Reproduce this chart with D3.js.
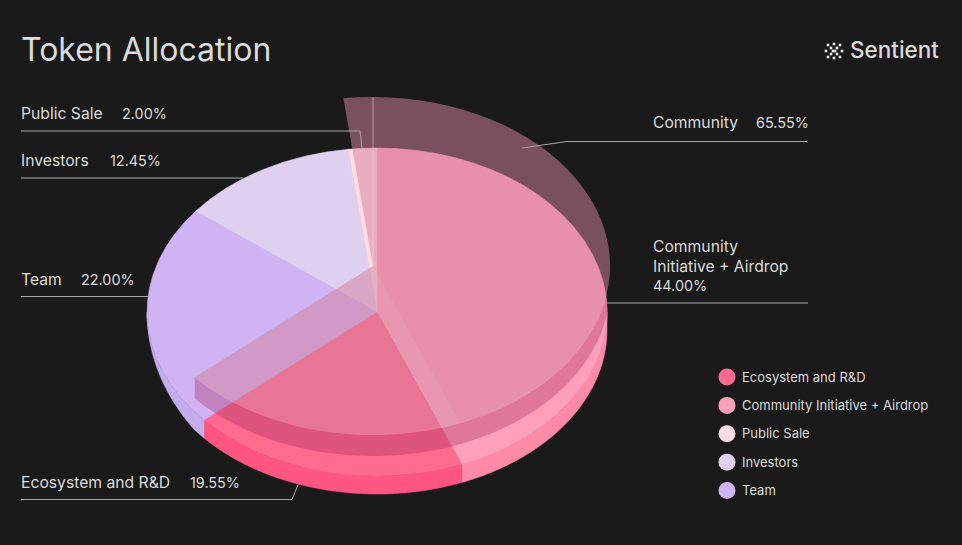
<!DOCTYPE html>
<html>
<head>
<meta charset="utf-8">
<script src="https://cdn.jsdelivr.net/npm/d3@7"></script>
<style>
  html, body { margin: 0; background: #1a1a1a; }
  svg { display: block; }
  text { font-family: Inter, "Noto Sans", sans-serif; fill: #dcdcdc; }
</style>
</head>
<body>
<script>
// slices, in drawing order clockwise from 12 o'clock
var categories = ['Community Initiative + Airdrop', 'Ecosystem and R&D', 'Team', 'Investors', 'Public Sale'];
var values = [44, 19.55, 22, 12.45, 2];

// the lifted "Community" slab is made of these three
var communityParts = ['Public Sale', 'Community Initiative + Airdrop', 'Ecosystem and R&D'];
var communityTotal = 65.55;

var legendOrder = ['Ecosystem and R&D', 'Community Initiative + Airdrop', 'Public Sale', 'Investors', 'Team'];
var topColors = ['#ffa0ba', '#ff6a8f', '#cfb3f2', '#dfd0f0', '#ffdde3'];
var sideColors = ['#ff8aa8', '#ff5582', '#c4adec', '#cfc0e5', '#eeccd3'];

var width = 962, height = 545;
var pct = d3.format('.2f');
var valueOf = function(name) { return values[categories.indexOf(name)]; };
var topColor = d3.scaleOrdinal().domain(categories).range(topColors);
var sideColor = d3.scaleOrdinal().domain(categories).range(sideColors);

var base = { cx: 377, cy: 312, rx: 230, ry: 164, depth: 18 };
var slab = { cx: 373, cy: 266, rx: 237, ry: 169, depth: 21 };

var svg = d3.select('body').append('svg').attr('width', width).attr('height', height);
svg.append('rect').attr('width', width).attr('height', height).attr('fill', '#1a1a1a');

var arc = d3.arc().innerRadius(0).outerRadius(1);
var tau = 2 * Math.PI;

var pie = d3.pie().sort(null).value(function(d) { return valueOf(d); });
var baseSlices = pie(categories);
var slabStart = -valueOf('Public Sale') / 100 * tau;
var slabSlices = d3.pie().sort(null).value(function(d) { return valueOf(d); })
  .startAngle(slabStart).endAngle(slabStart + communityTotal / 100 * tau)(communityParts);

function ellipseTransform(e) {
  return 'translate(' + e.cx + ',' + e.cy + ') scale(' + e.rx + ',' + e.ry + ')';
}

// the rim thins out toward the left end of the disc
function rimDepth(e, a) {
  return e.depth * Math.min(1, (1.5 * Math.PI - a) / 0.65);
}

// rim of a disc between two angles, d3.area over sampled angles
function rim(e, a0, a1) {
  var angles = d3.range(a0, a1, 0.01).concat([a1]);
  return d3.area()
    .x(function(a) { return e.cx + e.rx * Math.sin(a); })
    .y0(function(a) { return e.cy - e.ry * Math.cos(a); })
    .y1(function(a) { return e.cy - e.ry * Math.cos(a) + rimDepth(e, a); })(angles);
}

var defs = svg.append('defs');

// outline of the lower disc, the slab's rim only shows on top of it
var baseClip = defs.append('clipPath').attr('id', 'baseClip');
baseClip.append('path').attr('d', rim(base, Math.PI / 2, 1.5 * Math.PI));
baseClip.append('ellipse').attr('cx', base.cx).attr('cy', base.cy).attr('rx', base.rx).attr('ry', base.ry);

defs.append('clipPath').attr('id', 'ciClip')
  .append('path')
  .attr('transform', ellipseTransform(base))
  .attr('d', arc(baseSlices[0]));

// lower disc: rim first, top faces after
baseSlices.forEach(function(s) {
  var a0 = Math.max(s.startAngle, Math.PI / 2);
  var a1 = Math.min(s.endAngle, 1.5 * Math.PI);
  if (a1 <= a0) return;
  svg.append('path').attr('d', rim(base, a0, a1))
    .attr('fill', sideColor(s.data))
    .attr('stroke', sideColor(s.data)).attr('stroke-width', 0.5);
});

// the thin stroke hides antialiasing seams between the slices
svg.append('g').attr('transform', ellipseTransform(base))
  .selectAll('path').data(baseSlices).enter().append('path')
  .attr('d', arc)
  .attr('fill', function(d) { return topColor(d.data); })
  .attr('stroke', function(d) { return topColor(d.data); })
  .attr('stroke-width', 0.6)
  .attr('vector-effect', 'non-scaling-stroke');

// lifted translucent slab
var slabStartAngle = slabSlices[0].startAngle;
var slabEndAngle = slabSlices[2].endAngle;

svg.append('path')
  .attr('d', rim(slab, Math.PI / 2, slabEndAngle))
  .attr('clip-path', 'url(#baseClip)')
  .attr('fill', 'rgba(166,46,94,0.36)');

svg.append('g').attr('transform', ellipseTransform(slab))
  .append('path')
  .attr('d', arc({ startAngle: slabStartAngle, endAngle: slabEndAngle }))
  .attr('fill', 'rgba(210,128,157,0.52)');

// slightly lighter band where the slab's ecosystem part overlaps the airdrop slice
svg.append('g').attr('clip-path', 'url(#ciClip)')
  .append('g').attr('transform', ellipseTransform(slab))
  .append('path')
  .attr('d', arc(slabSlices[2]))
  .attr('fill', 'rgba(255,255,255,0.08)');

// seam of the slab at 12 o'clock
svg.append('line')
  .attr('x1', slab.cx).attr('x2', slab.cx)
  .attr('y1', slab.cy - slab.ry).attr('y2', slab.cy)
  .attr('stroke', 'rgba(255,225,235,0.3)').attr('stroke-width', 1.6);

// leader lines
var leaders = [
  [[21, 131], [360, 131], [362, 148]],
  [[21, 178], [243, 178]],
  [[21, 296.5], [148, 296.5]],
  [[21, 499.5], [292, 499.5], [298, 485]],
  [[522, 148], [567, 141.5], [807, 141.5]],
  [[607, 303], [808, 303]]
];
var line = d3.line();
svg.append('g').selectAll('path').data(leaders).enter().append('path')
  .attr('d', line)
  .attr('fill', 'none')
  .attr('stroke', '#a8a8a8')
  .attr('stroke-width', 1);

// callouts, the numbers run a little smaller than the names
function label(x, y, str) {
  svg.append('text').attr('x', x).attr('y', y).attr('font-size', 15.7).text(str);
}
function number(x, y, v) {
  svg.append('text').attr('x', x).attr('y', y).attr('font-size', 14.4).text(pct(v) + '%');
}
label(21, 119, 'Public Sale');
number(122, 119, valueOf('Public Sale'));
label(21, 166, 'Investors');
number(110, 166, valueOf('Investors'));
label(21, 285, 'Team');
number(81, 285, valueOf('Team'));
label(21, 488, 'Ecosystem and R&D');
number(190, 488, valueOf('Ecosystem and R&D'));
label(653, 128, 'Community');
number(756, 128, communityTotal);
label(653, 252, 'Community');
label(653, 272, 'Initiative + Airdrop');
number(653, 291, valueOf('Community Initiative + Airdrop'));

// title
svg.append('text').attr('x', 21).attr('y', 61).attr('font-size', 32).attr('fill', '#f0f0f0').text('Token Allocation');

// legend
var legendY = d3.scalePoint().domain(legendOrder).range([377, 490.5]);
var legend = svg.append('g').selectAll('g').data(legendOrder).enter().append('g')
  .attr('transform', function(d) { return 'translate(0,' + legendY(d) + ')'; });
legend.append('circle').attr('cx', 727).attr('r', 8.5).attr('fill', function(d) { return topColor(d); });
legend.append('text').attr('x', 742).attr('y', 4.5).attr('font-size', 13).text(function(d) { return d; });

// logo: ring of little squares plus the wordmark
var logoDots = [[-6, -6], [0, -7], [6, -6], [-3, -3], [3, -3], [-8, 0], [8, 0], [-3, 3], [3, 3], [-6, 6], [0, 7], [6, 6], [-1, 0], [1, 0]];
svg.append('g').attr('transform', 'translate(834,51)')
  .selectAll('rect').data(logoDots).enter().append('rect')
  .attr('x', function(d) { return d[0] - 1.3; })
  .attr('y', function(d) { return d[1] - 1.3; })
  .attr('width', 2.6).attr('height', 2.6)
  .attr('fill', '#e8e8e8');
svg.append('text').attr('x', 850).attr('y', 58).attr('font-size', 22.5).attr('font-weight', 500).attr('fill', '#ececec').text('Sentient');
</script>
</body>
</html>
